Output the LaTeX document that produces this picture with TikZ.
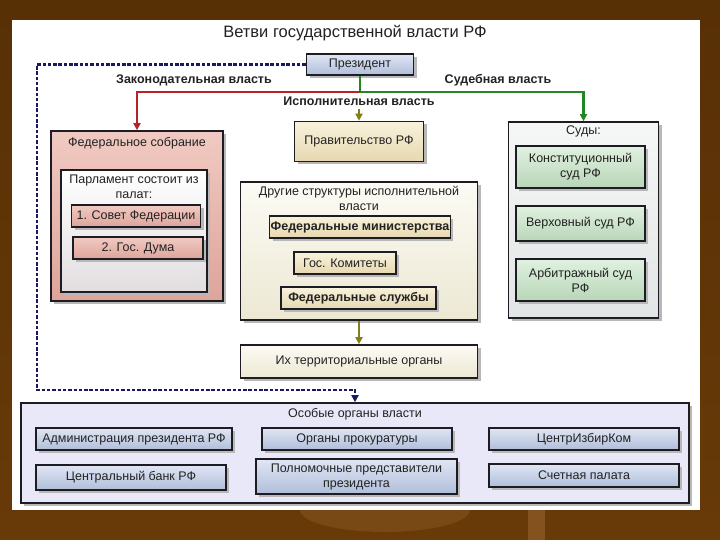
\documentclass[tikz,border=0pt]{standalone}
\usepackage{fontspec}
\setmainfont{Liberation Sans}
\usetikzlibrary{arrows.meta,calc,positioning,shadows}
\definecolor{wood}{RGB}{104,58,8}
\definecolor{wooddk}{RGB}{88,48,6}
\definecolor{woodlt}{RGB}{150,98,45}
\definecolor{frame}{RGB}{28,28,34}
\definecolor{ink}{RGB}{34,34,34}
\definecolor{navy}{RGB}{24,24,100}
\definecolor{leg}{RGB}{185,35,40}
\definecolor{jud}{RGB}{35,135,35}
\definecolor{exe}{RGB}{128,128,24}
\definecolor{presA}{RGB}{224,230,244}
\definecolor{presB}{RGB}{176,190,218}
\definecolor{pinkA}{RGB}{240,202,194}
\definecolor{pinkB}{RGB}{222,164,154}
\definecolor{paleA}{RGB}{255,255,255}
\definecolor{paleB}{RGB}{226,222,224}
\definecolor{beigeA}{RGB}{248,242,220}
\definecolor{beigeB}{RGB}{230,216,176}
\definecolor{creamA}{RGB}{252,251,244}
\definecolor{creamB}{RGB}{236,232,212}
\definecolor{greenA}{RGB}{224,241,224}
\definecolor{greenB}{RGB}{184,214,184}
\definecolor{greyA}{RGB}{246,247,247}
\definecolor{greyB}{RGB}{226,229,229}
\definecolor{lav}{RGB}{232,232,248}

\begin{document}
\begin{tikzpicture}[x=1pt, y=-1pt, >={Triangle[length=7pt,width=7pt]},
  font=\fontsize{12.5}{15}\selectfont, text=ink,
  box/.style={draw=frame, line width=1.6pt, inner sep=1pt, align=center,
    general shadow={fill=black!28, shadow xshift=3pt, shadow yshift=-3pt}},
  presbox/.style={box, top color=presA, bottom color=presB},
  pinkbox/.style={box, top color=pinkA, bottom color=pinkB},
  palebox/.style={box, top color=paleA, bottom color=paleB},
  beigebox/.style={box, top color=beigeA, bottom color=beigeB},
  creambox/.style={box, top color=creamA, bottom color=creamB},
  greenbox/.style={box, top color=greenA, bottom color=greenB},
  greybox/.style={box, top color=greyA, bottom color=greyB},
  lavbox/.style={box, fill=lav},
  lbl/.style={font=\bfseries\fontsize{12.5}{15}\selectfont},
  branch/.style={line width=2.2pt, ->}]

% slide
\useasboundingbox (0,0) rectangle (720,540);
\shade[top color=wooddk, bottom color=wood] (0,0) rectangle (720,540);
\fill[woodlt!35!wood] (300,510) arc[start angle=180, end angle=0, x radius=85, y radius=22] -- cycle;
\fill[woodlt!60!wood] (528,510) rectangle (545,540);
\fill[white] (12,20) rectangle (700,510);

% head
\node[font=\fontsize{16.5}{18}\selectfont] (title) at (355,33) {Ветви государственной власти РФ};
\node[presbox, minimum width=107, minimum height=21] (pres) at (360,64.5) {Президент};
\node[lbl] (leglbl) at (194,80) {Законодательная власть};
\node[lbl] (judlbl) at (498,80) {Судебная власть};
\node[lbl] (exelbl) at (359,101) {Исполнительная власть};

% Federal assembly
\node[pinkbox, minimum width=172, minimum height=170] (fed) at (137,216) {};
\node (fedtitle) at (137,143) {Федеральное собрание};
\node[palebox, minimum width=146, minimum height=122] (parl) at (134,231) {};
\node[align=center] (parltitle) at (134,187) {Парламент состоит из\\палат:};
\node[pinkbox, minimum width=129, minimum height=22] (sovfed) at (136,216) {1. Совет Федерации};
\node[pinkbox, minimum width=130, minimum height=22] (duma) at (138,248) {2. Гос. Дума};

% executive
\node[beigebox, minimum width=129, minimum height=40] (gov) at (359,141.5) {Правительство РФ};
\node[creambox, minimum width=237, minimum height=138] (other) at (359,251) {};
\node[align=center] (othertitle) at (359,198) {Другие структуры исполнительной\\власти};
\node[beigebox, font=\bfseries\fontsize{12.5}{15}\selectfont, minimum width=178, minimum height=22] (minist) at (360,227) {Федеральные министерства};
\node[beigebox, minimum width=102, minimum height=22] (komit) at (345,263) {Гос. Комитеты};
\node[beigebox, font=\bfseries\fontsize{12.5}{15}\selectfont, minimum width=155, minimum height=22] (sluzh) at (358.5,298) {Федеральные службы};
\node[creambox, minimum width=237, minimum height=33] (terr) at (359,361.5) {Их территориальные органы};

% courts
\node[greybox, minimum width=150, minimum height=196] (courts) at (583.5,220) {};
\node (courtstitle) at (583.5,131) {Суды:};
\node[greenbox, minimum width=129, minimum height=42] (konst) at (580.5,167) {Конституционный\\суд РФ};
\node[greenbox, minimum width=129, minimum height=35] (verkh) at (580.5,223.5) {Верховный суд РФ};
\node[greenbox, minimum width=129, minimum height=42] (arb) at (580.5,280) {Арбитражный суд\\РФ};

% special bodies
\node[lavbox, minimum width=668, minimum height=100] (special) at (355,453) {};
\node (specialtitle) at (355,414) {Особые органы власти};
\node[presbox, minimum width=196, minimum height=22] (adm) at (134,439) {Администрация президента РФ};
\node[presbox, minimum width=190, minimum height=22] (prok) at (357,439) {Органы прокуратуры};
\node[presbox, minimum width=190, minimum height=22] (cik) at (584,439) {ЦентрИзбирКом};
\node[presbox, minimum width=190, minimum height=25] (bank) at (131,477.5) {Центральный банк РФ};
\node[presbox, minimum width=201, minimum height=35] (polnom) at (356.5,476.5) {Полномочные представители\\президента};
\node[presbox, minimum width=190, minimum height=23] (schet) at (584,475.5) {Счетная палата};

% branches
\coordinate (split) at (360,92);
\draw[branch, jud] (pres.south) -- (split) -| (courts.north);
\draw[branch, leg] (split) -| (fed.north);
\draw[branch, exe] (exelbl.south) -- (gov.north);
\draw[branch, exe] (other.south) -- (terr.north);

% president -> special bodies
\coordinate (dcorner) at (37,390);
\coordinate (dend) at (355,390);
\draw[navy, line width=2.2pt, dash pattern=on 3.5pt off 1.8pt, ->] (pres.west) -| (dcorner) -- (dend) -- (special.north);
\end{tikzpicture}
\end{document}
